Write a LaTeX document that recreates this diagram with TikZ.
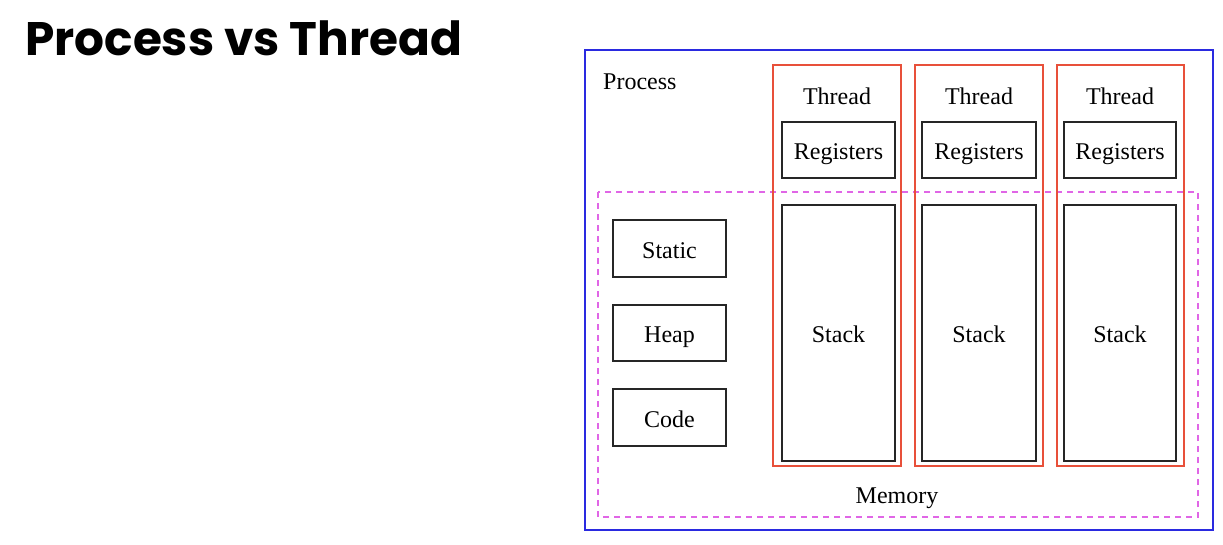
\documentclass[tikz,border=0pt]{standalone}
\usepackage{fontspec}
\setmainfont{Liberation Serif}
\newfontfamily\titlefont{Poppins}
\usepackage{tikz}
\usepackage{xcolor}
\definecolor{procblue}{HTML}{2A2AE0}
\definecolor{thredred}{HTML}{E8503A}
\definecolor{memmagenta}{HTML}{E066E6}
\tikzset{
  blockbox/.style={draw=black!85, line width=1.6pt, inner sep=0pt, outer sep=0pt, text height=19pt, text depth=0pt, font=\fontsize{24}{27}\selectfont},
  threadbox/.style={draw=thredred, line width=1.6pt, inner sep=0pt, outer sep=0pt},
  lbl/.style={inner sep=0pt, font=\fontsize{24}{27}\selectfont}
}

\begin{document}
\begin{tikzpicture}[x=1pt,y=-1pt]
\useasboundingbox [fill=white] (0,0) rectangle (1223,544);

\node [anchor=base west, inner sep=0pt, font=\titlefont\bfseries\fontsize{47}{54}\selectfont] (title) at (25,55) {Process vs Thread};

% process and memory
\node [draw=procblue, line width=1.6pt, inner sep=0pt, minimum width=628pt, minimum height=480pt] (proc) at (899,290) {};
\node [lbl, anchor=base west] (proclbl) at (603,89) {Process};
\draw [memmagenta, line width=1.8pt, dash pattern=on 6pt off 5pt] (598,192) rectangle (1198,517);
\node [lbl, anchor=base] (memlbl) at (897,503) {Memory};

% shared blocks
\node [blockbox, minimum width=113pt, minimum height=57pt] (static) at (669.5,248.5) {Static};
\node [blockbox, minimum width=113pt, minimum height=56pt] (heap) at (669.5,333) {Heap};
\node [blockbox, minimum width=113pt, minimum height=57pt] (code) at (669.5,417.5) {Code};

% threads
\node [threadbox, minimum width=128pt, minimum height=401pt] (thr1) at (837,265.5) {};
\node [threadbox, minimum width=128pt, minimum height=401pt] (thr2) at (979,265.5) {};
\node [threadbox, minimum width=127pt, minimum height=401pt] (thr3) at (1120.5,265.5) {};
\node [lbl] (thrlbl1) at (837,96) {Thread};
\node [lbl] (thrlbl2) at (979,96) {Thread};
\node [lbl] (thrlbl3) at (1120,96) {Thread};

\node [blockbox, minimum width=113pt, minimum height=56pt] (reg1) at (838.5,150) {Registers};
\node [blockbox, minimum width=114pt, minimum height=56pt] (reg2) at (979,150) {Registers};
\node [blockbox, minimum width=112pt, minimum height=56pt] (reg3) at (1120,150) {Registers};

\node [blockbox, minimum width=113pt, minimum height=256pt] (stk1) at (838.5,333) {Stack};
\node [blockbox, minimum width=114pt, minimum height=256pt] (stk2) at (979,333) {Stack};
\node [blockbox, minimum width=112pt, minimum height=256pt] (stk3) at (1120,333) {Stack};
\end{tikzpicture}
\end{document}
